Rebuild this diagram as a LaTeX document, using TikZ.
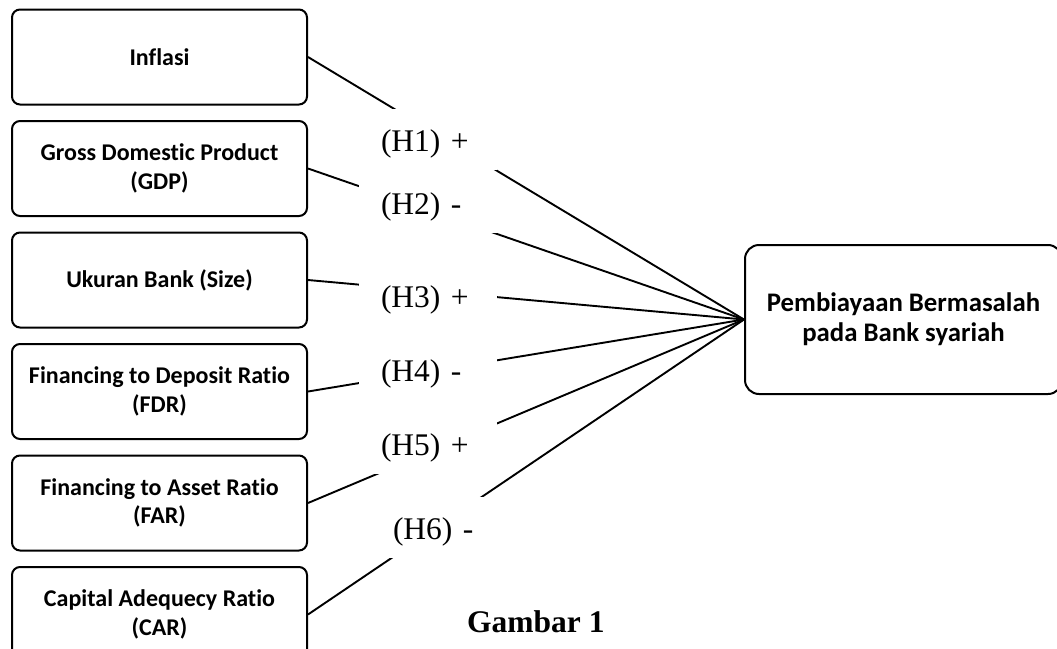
\documentclass[tikz,border=0pt]{standalone}
\usepackage{fontspec}
\setmainfont{Liberation Serif}
\newfontfamily\boxfont[Ligatures=NoCommon]{Carlito}
\usetikzlibrary{positioning}
\tikzset{
  varbox/.style={draw=black,line width=2pt,rounded corners=8pt,fill=white,align=center,
    minimum width=295pt,minimum height=95pt,inner sep=2pt,
    font=\boxfont\bfseries\fontsize{24}{28.5}\selectfont},
  depbox/.style={varbox,rounded corners=14pt,minimum width=317pt,minimum height=149pt,
    font=\boxfont\bfseries\fontsize{26.8}{30}\selectfont},
  hyplabel/.style={fill=white,inner xsep=22pt,inner ysep=0pt,text width=94pt,align=left,
    text height=29pt,text depth=6pt,minimum height=61pt,font=\fontsize{31.5}{36}\selectfont},
  link/.style={draw=black,line width=1.9pt}
}
\begin{document}
\begin{tikzpicture}[x=1pt,y=-1pt,node distance=14.5pt]
  \useasboundingbox (0,0) rectangle (1057,648);
  % independent variables
  \node[varbox] (inf) at (159.5,57) {Inflasi};
  \node[varbox,below=of inf] (gdp) {Gross Domestic Product\\(GDP)};
  \node[varbox,below=of gdp] (size) {Ukuran Bank (Size)};
  \node[varbox,below=of size] (fdr) {Financing to Deposit Ratio\\(FDR)};
  \node[varbox,below=of fdr] (far) {Financing to Asset Ratio\\(FAR)};
  \node[varbox,below=of far] (car) {Capital Adequecy Ratio\\(CAR)};
  % dependent variable
  \node[depbox] (npf) at (903.5,319.5) {Pembiayaan Bermasalah\\pada Bank syariah};
  \draw[link] (inf.east)--(npf.west);
  \draw[link] (gdp.east)--(npf.west);
  \draw[link] (size.east)--(npf.west);
  \draw[link] (fdr.east)--(npf.west);
  \draw[link] (far.east)--(npf.west);
  \draw[link] (car.east)--(npf.west);
  % hypothesis labels over the links
  \node[hyplabel] (h1) at (428,139.5) {(H1) +};
  \node[hyplabel] (h2) at (428,202.5) {(H2) -};
  \node[hyplabel] (h3) at (428,295.5) {(H3) +};
  \node[hyplabel] (h4) at (428,369.5) {(H4) -};
  \node[hyplabel] (h5) at (428,443.5) {(H5) +};
  \node[hyplabel] (h6) at (440,527.5) {(H6) -};
  \node[font=\bfseries\fontsize{31.5}{36}\selectfont,anchor=base west,inner sep=0pt] (fig) at (467,632) {Gambar 1};
\end{tikzpicture}
\end{document}
